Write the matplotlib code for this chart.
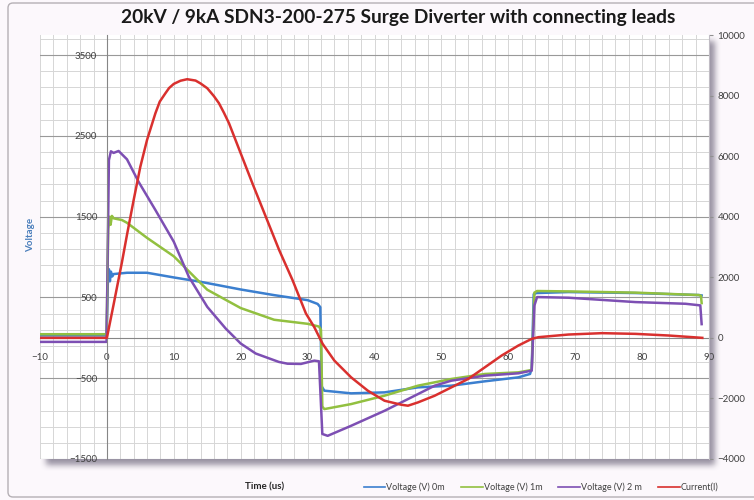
import matplotlib
matplotlib.use("Agg")
import matplotlib.pyplot as plt
import numpy as np
from matplotlib.lines import Line2D
from matplotlib.patches import FancyBboxPatch
from matplotlib.ticker import MultipleLocator, FixedLocator

plt.rcParams["font.family"] = ["Lato", "DejaVu Sans"]

# Data (time in us)
v0m_t = [-10, -0.05, 0.15, 0.3, 0.45, 0.6, 0.8, 1.0, 3, 6, 10, 14, 20, 25, 30, 31.5, 31.9,
         32.1, 32.5, 36.5, 41.5, 46.5, 51.5, 56.5, 61.5, 63.25, 63.5, 63.8, 64.2, 69, 79, 88.5, 88.9]
v0m_v = [30, 30, 720, 850, 700, 820, 760, 790, 806, 806, 748, 694, 599, 529, 467, 420, 380,
         -600, -654, -687, -675, -613, -592, -538, -489, -447, -380, 540, 555, 567, 555, 530, 525]

v1m_t = [-10, -0.05, 0.2, 0.4, 0.55, 0.75, 1.0, 2.25, 3, 6, 10, 12.25, 15, 20, 25, 30, 31.7, 32.0,
         32.2, 32.5, 36.5, 41.5, 46.5, 51.5, 56.5, 61.5, 63.5, 63.9, 64.3, 69, 79, 88.5, 88.8, 88.9]
v1m_v = [45, 45, 1350, 1500, 1400, 1510, 1480, 1459, 1425, 1238, 1010, 824, 596, 369, 224, 174, 140, 100,
         -850, -882, -820, -716, -592, -509, -447, -427, -398, 560, 580, 575, 560, 530, 520, 430]

v2m_t = [-10, -0.05, 0.3, 0.6, 1.0, 1.75, 3, 4.75, 7.25, 10, 12.25, 15, 17.75, 20, 22.25, 25.7, 27,
         29, 31, 31.7, 32.2, 33, 36.5, 41.5, 46.5, 49, 51.5, 56.5, 61.5, 63.5, 63.9, 64.3, 69, 79,
         86.5, 88.7, 88.9]
v2m_v = [-50, -50, 2200, 2310, 2290, 2314, 2211, 1930, 1583, 1190, 756, 384, 116, -70, -194, -298, -320,
         -323, -282, -290, -1190, -1213, -1089, -903, -696, -592, -530, -468, -439, -406, 400, 505, 497, 443,
         422, 402, 170]

cur_t = [-10, -0.05, 0, 1, 2.25, 3, 4, 5, 6, 7.25, 7.9, 8.75, 9.3, 10, 11, 12, 13.25, 14, 15, 16,
         16.75, 17.5, 18.25, 20, 21.75, 23.75, 25.75, 27.75, 29.75, 31, 32.25, 34, 36.5, 39, 41.5, 44,
         45, 46.5, 49, 51.5, 54, 56.5, 59, 61.5, 63.5, 64.5, 69, 74, 79, 84, 89]
cur_i = [0, 0, 0, 1100, 2500, 3400, 4551, 5653, 6535, 7416, 7800, 8078, 8250, 8386, 8490, 8540, 8496,
         8400, 8243, 7980, 7747, 7430, 7086, 6094, 5102, 4000, 2898, 1906, 804, 353, -199, -751, -1303,
         -1744, -2076, -2208, -2240, -2131, -1910, -1634, -1358, -972, -585, -254, -33, 22, 110, 155,
         132, 77, 0]

left_ticks = [-1500, -500, 500, 1500, 2500, 3500]
right_ticks = [-4000, -2000, 0, 2000, 4000, 6000, 8000, 10000]
labels = ["Voltage (V) 0m", "Voltage (V) 1m", "Voltage (V) 2 m", "Current(I)"]
colors = ["#3b7fcf", "#92c040", "#7d4fb3", "#d9302e"]

W, H = 754, 500
fig = plt.figure(figsize=(W / 100, H / 100), dpi=100)
fig.patch.set_facecolor("#fcf8fc")

# plot area in pixels
p_left, p_right, p_top, p_bottom = 40, 709, 35, 459


def fx(px):
    return px / W


def fy(py):
    return 1 - py / H


# background: border + blurred drop shadow behind the plot area
bg = fig.add_axes([0, 0, 1, 1], zorder=-5)
bg.set_axis_off()
mask = np.zeros((H, W))
off = 6
mask[p_top + off:p_bottom + off, p_left + off:p_right + off] = 1.0
kernel = np.ones(7) / 7
for _ in range(2):
    mask = np.apply_along_axis(lambda r: np.convolve(r, kernel, mode="same"), 1, mask)
    mask = np.apply_along_axis(lambda c: np.convolve(c, kernel, mode="same"), 0, mask)
rgba = np.zeros((H, W, 4))
rgba[..., 0] = 0.47
rgba[..., 1] = 0.44
rgba[..., 2] = 0.52
rgba[..., 3] = mask * 0.75
bg.imshow(rgba, extent=[0, W, H, 0], aspect="auto", interpolation="bilinear")
bg.add_patch(FancyBboxPatch((8, 3), 770, 494, boxstyle="round,pad=0,rounding_size=5",
                            facecolor="none", edgecolor="#b5b0b5", lw=1.0))
bg.set_xlim(0, W)
bg.set_ylim(H, 0)

# main axes
ax = fig.add_axes([fx(p_left), fy(p_bottom), fx(p_right) - fx(p_left), (p_bottom - p_top) / H])
ax.set_facecolor("white")
ax.set_xlim(-10, 90)
ax.set_ylim(-1500, 3750)

ax.xaxis.set_major_locator(MultipleLocator(10))
ax.xaxis.set_minor_locator(MultipleLocator(2))
ax.yaxis.set_major_locator(FixedLocator(left_ticks))
ax.yaxis.set_minor_locator(FixedLocator(np.arange(-1300, 3750, 200)))
ax.grid(axis="y", which="major", color="#999999", lw=0.8)
ax.grid(axis="y", which="minor", color="#d6d6d6", lw=0.7)
ax.grid(axis="x", which="both", color="#d6d6d6", lw=0.7)
ax.set_axisbelow(True)

for s in ["top", "right"]:
    ax.spines[s].set_visible(False)
ax.spines["left"].set_position(("data", 0))
ax.spines["bottom"].set_position(("data", 0))
ax.spines["left"].set_color("#868686")
ax.spines["bottom"].set_color("#868686")
ax.tick_params(axis="x", which="both", length=0, pad=11, labelsize=7, labelcolor="#404040")
ax.tick_params(axis="y", which="both", length=0, pad=7, labelsize=7, labelcolor="#404040")

ax.plot(v0m_t, v0m_v, color=colors[0], lw=1.8)
ax.plot(v1m_t, v1m_v, color=colors[1], lw=1.8)
ax.plot(v2m_t, v2m_v, color=colors[2], lw=1.8)

ax2 = ax.twinx()
ax2.set_ylim(-4000, 10000)
ax2.set_yticks(right_ticks)
ax2.plot(cur_t, cur_i, color=colors[3], lw=1.8)
for s in ["top", "left", "bottom"]:
    ax2.spines[s].set_visible(False)
ax2.spines["right"].set_color("#c0bcc4")
ax2.tick_params(axis="y", length=3, width=0.8, color="#909090", pad=3, labelsize=7, labelcolor="#404040")

# texts
fig.text(fx(398), fy(17), "20kV / 9kA SDN3-200-275 Surge Diverter with connecting leads",
         ha="center", va="center", fontsize=13.8, fontweight="bold", color="#1a1a1a")
fig.text(fx(31), fy(235), "Voltage", rotation=90, ha="center", va="center",
         fontsize=7, fontweight="bold", color="#4a7ebb")
fig.text(fx(265), fy(487), "Time (us)", ha="center", va="center",
         fontsize=7, fontweight="bold", color="#262626")

handles = [Line2D([], [], color=c, lw=1.2) for c in colors]
fig.legend(handles, labels, loc="center", bbox_to_anchor=(fx(541), fy(487)), ncol=4,
           frameon=False, fontsize=6.5, handlelength=2.4, handletextpad=0.1,
           columnspacing=1.8, labelcolor="#404040")

fig.savefig("out.png", dpi=100, facecolor=fig.get_facecolor())
